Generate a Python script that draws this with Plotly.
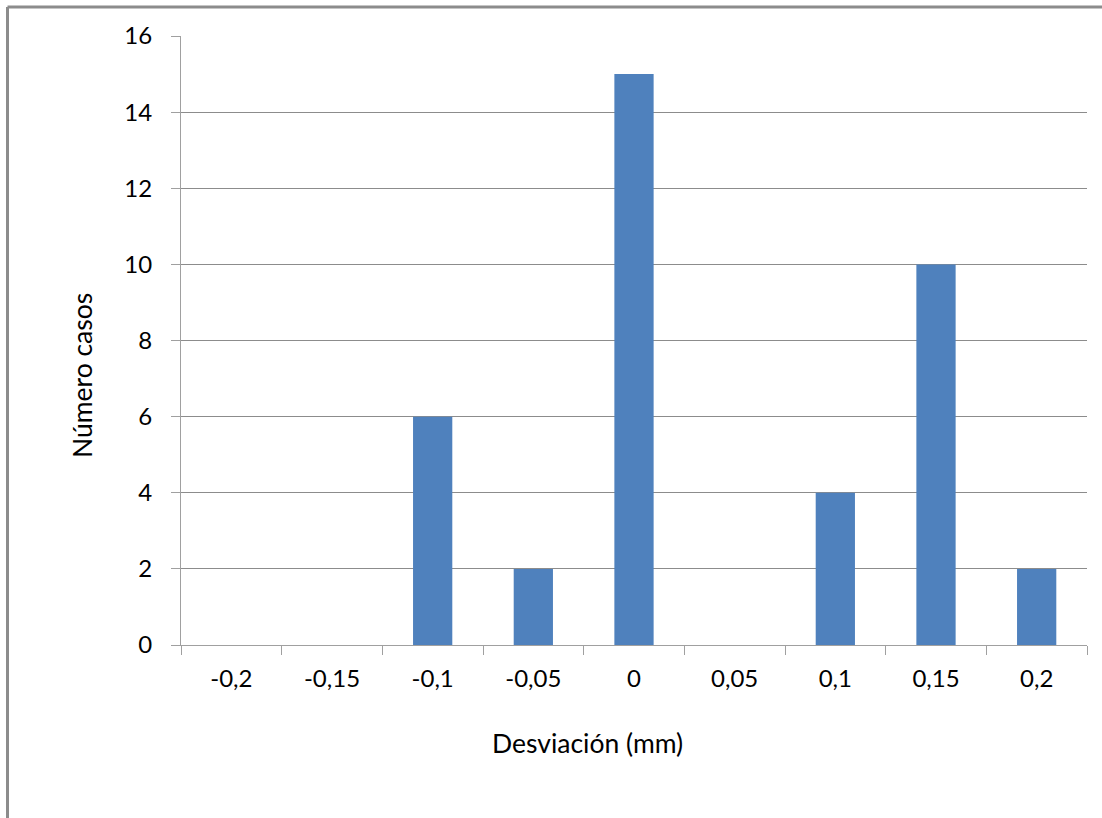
import plotly.graph_objects as go

categories = ["-0,2", "-0,15", "-0,1", "-0,05", "0", "0,05", "0,1", "0,15", "0,2"]
casos = [0, 0, 6, 2, 15, 0, 4, 10, 2]
y_ticks = [0, 2, 4, 6, 8, 10, 12, 14, 16]

W, H = 1102, 818
L, R, T, B = 181, 15, 36, 173
PW, PH = W - L - R, H - T - B
FONT = "Lato"

fig = go.Figure(go.Bar(
    x=categories, y=casos,
    marker=dict(color="#4F81BD", line=dict(width=0)),
    width=0.39,
))

fig.update_layout(
    width=W, height=H,
    margin=dict(l=L, r=R, t=T, b=B, pad=0),
    paper_bgcolor="white", plot_bgcolor="white",
    showlegend=False,
    font=dict(family=FONT, size=24, color="#000000"),
    xaxis=dict(
        type="category", tickson="boundaries",
        showgrid=False, showline=True, linecolor="#A0A0A0", linewidth=1,
        ticks="outside", ticklen=9, tickcolor="#A0A0A0",
        tickfont=dict(size=24), ticklabelstandoff=12,
    ),
    yaxis=dict(
        range=[0, 16], tickvals=y_ticks,
        showgrid=True, gridcolor="#8C8C8C", gridwidth=1,
        showline=True, linecolor="#A0A0A0", linewidth=1,
        ticks="outside", ticklen=9, tickcolor="#A0A0A0",
        tickfont=dict(size=24), zeroline=False, ticklabelstandoff=14,
    ),
)

# axis titles placed as in the reference
fig.add_annotation(text="Desviación (mm)", xref="paper", yref="paper",
                   x=(587 - L) / PW, y=-(743 - T - PH) / PH,
                   xanchor="center", yanchor="middle", showarrow=False,
                   font=dict(size=26.5))
fig.add_annotation(text="Número casos", xref="paper", yref="paper",
                   x=-(L - 82) / PW, y=1 - (376 - T) / PH, textangle=-90,
                   xanchor="center", yanchor="middle", showarrow=False,
                   font=dict(size=26.5))

# outer chart border (left and top edges visible)
x0 = -(L - 7.5) / PW
y1 = 1 + (T - 7) / PH
fig.add_shape(type="line", xref="paper", yref="paper", x0=x0, x1=x0, y0=-5, y1=y1,
              line=dict(color="#8C8C8C", width=3))
fig.add_shape(type="line", xref="paper", yref="paper", x0=x0, x1=5, y0=y1, y1=y1,
              line=dict(color="#8C8C8C", width=3))

fig.write_html("out.html", config={"displayModeBar": False},
               post_script="document.body.style.margin='0';")
